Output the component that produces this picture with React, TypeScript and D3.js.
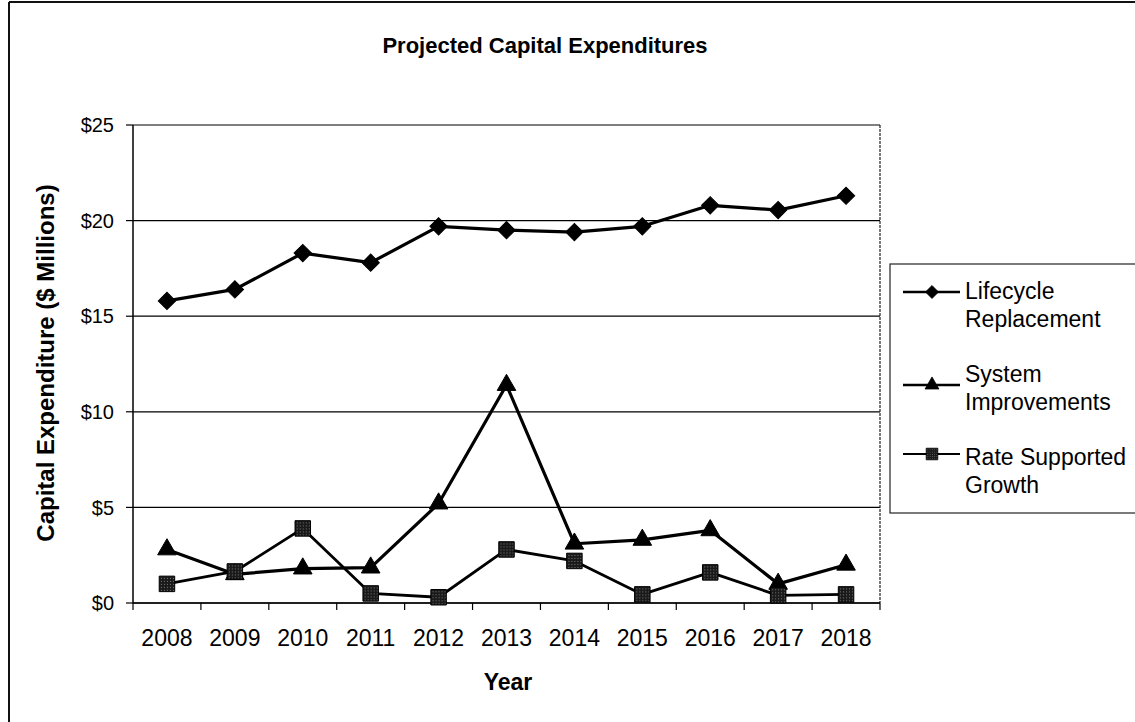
import React from 'react';
import * as d3 from 'd3';

const years = ['2008', '2009', '2010', '2011', '2012', '2013', '2014', '2015', '2016', '2017', '2018'];
const lifecycle = [15.8, 16.4, 18.3, 17.8, 19.7, 19.5, 19.4, 19.7, 20.8, 20.55, 21.3];
const systemImp = [2.8, 1.5, 1.8, 1.85, 5.2, 11.4, 3.1, 3.3, 3.8, 1.0, 2.0];
const growth = [1.0, 1.65, 3.9, 0.5, 0.3, 2.8, 2.2, 0.45, 1.6, 0.4, 0.45];
const yTicks = [0, 5, 10, 15, 20, 25];
const seriesNames = [['Lifecycle', 'Replacement'], ['System', 'Improvements'], ['Rate Supported', 'Growth']];

const W = 1135, H = 722;
const left = 133, right = 880, top = 125, bottom = 603;
const FONT = 'Liberation Sans, Arial, sans-serif';

export default function App() {
  const x = d3.scaleBand<string>().domain(years).range([left, right]);
  const cx = (yr: string) => (x(yr) as number) + x.bandwidth() / 2;
  const y = d3.scaleLinear().domain([0, 25]).range([bottom, top]);
  const line = d3.line<number>().x((_, i) => cx(years[i])).y(d => y(d));

  const diamond = d3.symbol(d3.symbolSquare, 150)();
  const triangle = d3.symbol(d3.symbolTriangle, 150)();
  const square = d3.symbol(d3.symbolSquare, 240)();

  const series = [
    { data: lifecycle, path: diamond, rot: 45, width: 3.2 },
    { data: systemImp, path: triangle, rot: 0, width: 3.2 },
    { data: growth, path: square, rot: 0, width: 2.8 },
  ];

  const legendX = 903;
  const legendLineY = [292, 385, 454];
  const legendBase = [299, 382, 465];

  return (
    <svg width={W} height={H} style={{ position: 'absolute', left: 0, top: 0, background: '#fff' }} fontFamily={FONT}>
      <defs>
        <pattern id="hatch" width="3" height="3" patternUnits="userSpaceOnUse">
          <rect width="3" height="3" fill="#1a1a1a" />
          <rect width="1" height="1" fill="#777" />
        </pattern>
      </defs>
      <rect x={0} y={0} width={W} height={H} fill="#fff" />
      <line x1={9} y1={2} x2={W} y2={2} stroke="#111" strokeWidth={2} />
      <line x1={9} y1={2} x2={9} y2={H} stroke="#111" strokeWidth={2} />

      <text x={545} y={53} textAnchor="middle" fontSize={22} fontWeight="bold" fill="#000">Projected Capital Expenditures</text>

      {yTicks.map(t => (
        <g key={t}>
          <line x1={left} x2={right} y1={y(t)} y2={y(t)} stroke="#000" strokeWidth={1.2} />
          <line x1={left - 7} x2={left} y1={y(t)} y2={y(t)} stroke="#000" strokeWidth={1.2} />
          <text x={114} y={y(t)} dy="0.36em" textAnchor="end" fontSize={20} fill="#000">${t}</text>
        </g>
      ))}
      <line x1={left} x2={left} y1={top} y2={bottom} stroke="#000" strokeWidth={1.5} />
      <line x1={right} x2={right} y1={top} y2={bottom} stroke="#222" strokeWidth={1.2} strokeDasharray="3 1" />
      <line x1={left} x2={right} y1={bottom} y2={bottom} stroke="#000" strokeWidth={1.5} />
      {x.domain().map((yr, i) => (
        <line key={'t' + i} x1={x(yr) as number} x2={x(yr) as number} y1={bottom} y2={bottom + 7} stroke="#000" strokeWidth={1.2} />
      ))}
      <line x1={right} x2={right} y1={bottom} y2={bottom + 7} stroke="#000" strokeWidth={1.2} />
      {years.map(yr => (
        <text key={yr} x={cx(yr)} y={646} textAnchor="middle" fontSize={23} fill="#000">{yr}</text>
      ))}

      <text x={508} y={690} textAnchor="middle" fontSize={23} fontWeight="bold" fill="#000">Year</text>
      <text transform={`translate(54, ${(top + bottom) / 2 - 1}) rotate(-90)`} textAnchor="middle" fontSize={24} fontWeight="bold" fill="#000">Capital Expenditure ($ Millions)</text>

      {series.map((s, si) => (
        <g key={si}>
          <path d={line(s.data) as string} fill="none" stroke="#000" strokeWidth={s.width} strokeLinejoin="round" />
          {s.data.map((v, i) => (
            <path key={i} d={s.path as string} transform={`translate(${cx(years[i])},${y(v)}) rotate(${s.rot})`}
              fill={si === 2 ? 'url(#hatch)' : '#000'} stroke="#000" strokeWidth={1} />
          ))}
        </g>
      ))}

      <rect x={890} y={264} width={260} height={249} fill="#fff" stroke="#222" strokeWidth={1.2} />
      {series.map((s, si) => (
        <g key={'l' + si}>
          <line x1={legendX} x2={legendX + 57} y1={legendLineY[si]} y2={legendLineY[si]} stroke="#000" strokeWidth={si === 2 ? 1.8 : 2.5} />
          <path d={s.path as string} transform={`translate(${legendX + 29},${legendLineY[si]}) rotate(${s.rot}) scale(0.75)`}
            fill={si === 2 ? 'url(#hatch)' : '#000'} stroke="#000" strokeWidth={1} />
          <text x={965} y={legendBase[si]} fontSize={23} fill="#000">{seriesNames[si][0]}</text>
          <text x={965} y={legendBase[si] + 28} fontSize={23} fill="#000">{seriesNames[si][1]}</text>
        </g>
      ))}
    </svg>
  );
}
